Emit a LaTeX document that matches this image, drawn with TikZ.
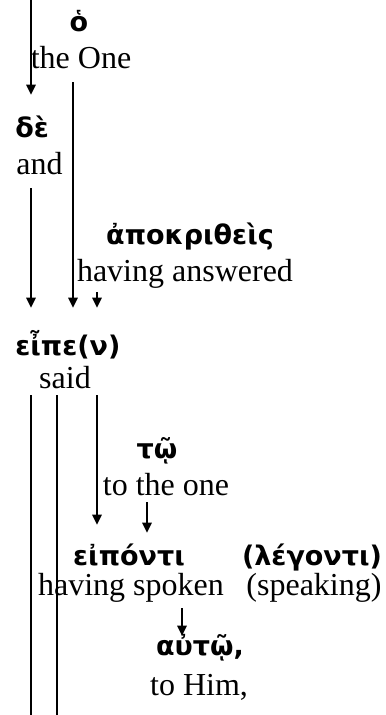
\documentclass[tikz,border=0pt]{standalone}
\usepackage{fontspec}
\setmainfont{Liberation Serif}
\newfontfamily\greekfont{DejaVu Sans}
\usetikzlibrary{arrows.meta}

\begin{document}
\begin{tikzpicture}[x=0.5pt, y=-0.5pt,
  grec/.style={inner sep=0, text height=7.5pt, text depth=3pt, font=\fontsize{13.5}{16}\selectfont\greekfont\bfseries},
  engl/.style={inner sep=0, text height=11.5pt, text depth=3.5pt, font=\fontsize{16}{19}\selectfont},
  fleche/.style={line width=0.7pt, -{Triangle[length=5pt, width=4.8pt]}},
  trait/.style={line width=0.7pt}
]
  \useasboundingbox (0,0) rectangle (385,715);
  % Colonnes des traits
  \coordinate (c1) at (31,0);
  \coordinate (c2) at (57,0);
  \coordinate (c3) at (73,0);
  \coordinate (c4) at (97,0);
  \coordinate (c5) at (147,0);
  \coordinate (c6) at (182,0);
  \coordinate (haut) at (31,0);
  \coordinate (bas1) at (31,715);
  \coordinate (bas2) at (57,715);
  % Mots grecs et traductions
  \node[grec, anchor=base] (ho) at (79,32) {ὁ};
  \node[engl, anchor=base] (theone) at (81,69) {the One};
  \node[grec, anchor=base west] (de) at (15,138) {δὲ};
  \node[engl, anchor=base west] (and) at (16,175) {and};
  \node[grec, anchor=base] (apokr) at (190,245) {ἀποκριθεὶς};
  \node[engl, anchor=base] (answered) at (185,282) {having answered};
  \node[grec, anchor=base west] (eipe) at (15,355) {εἶπε(ν)};
  \node[engl, anchor=base] (said) at (65,388) {said};
  \node[grec, anchor=base] (to) at (157,458) {τῷ};
  \node[engl, anchor=base] (totheone) at (166,495) {to the one};
  \node[grec, anchor=base] (eiponti) at (129,565) {εἰπόντι};
  \node[grec, anchor=base] (legonti) at (312,565) {(λέγοντι)};
  \node[engl, anchor=base] (spoken) at (131,595) {having spoken};
  \node[engl, anchor=base] (speaking) at (314,595) {(speaking)};
  \node[grec, anchor=base] (auto) at (200,655) {αὐτῷ,};
  \node[engl, anchor=base] (tohim) at (199,695) {to Him,};
  % Traits
  \draw[fleche, shorten >=14pt] (haut) -- (de.north -| c1);
  \draw[fleche, shorten <=3pt, shorten >=16pt] (theone.south -| c3) -- (eipe.north -| c3);
  \draw[fleche, shorten <=3pt, shorten >=16pt] (and.south -| c1) -- (eipe.north -| c1);
  \draw[fleche, shorten <=1.5pt, shorten >=16pt] (answered.south -| c4) -- (eipe.north -| c4);
  \draw[trait] (said.south -| c1) -- (bas1);
  \draw[trait] (said.south -| c2) -- (bas2);
  \draw[fleche, shorten >=12.5pt] (said.south -| c4) -- (eiponti.north -| c4);
  \draw[fleche, shorten >=8.5pt] (totheone.south -| c5) -- (eiponti.north -| c5);
  \draw[fleche, shorten <=3pt, shorten >=2pt] (spoken.south -| c6) -- (auto.north -| c6);
\end{tikzpicture}
\end{document}
